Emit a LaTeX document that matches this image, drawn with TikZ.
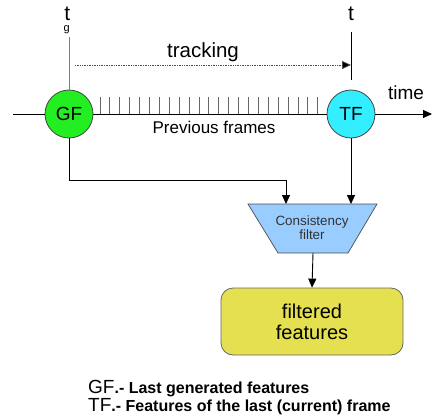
\documentclass[tikz,border=0pt]{standalone}
\usepackage{fontspec}
\setmainfont{Liberation Sans}
\usetikzlibrary{arrows.meta,calc}
\definecolor{gfgreen}{HTML}{22EE22}
\definecolor{tfcyan}{HTML}{33EEFF}
\definecolor{filtblue}{HTML}{99CCFF}
\definecolor{boxyellow}{HTML}{E5E04F}
\definecolor{edgegray}{HTML}{444444}
\tikzset{
  framecirc/.style={circle, draw=edgegray, line width=0.8pt, minimum size=48pt, inner sep=0pt, font=\fontsize{19}{19}\selectfont},
  conn/.style={draw=black, line width=0.9pt},
  arr/.style={conn, -{Triangle[length=9pt,width=8pt]}},
  ticksty/.style={draw=black!60, line width=0.9pt},
  lbl/.style={inner sep=0pt},
}
\begin{document}
\begin{tikzpicture}[x=1pt,y=-1pt]
\useasboundingbox (0,0) rectangle (433,417);
% circles
\node[framecirc, fill=gfgreen] (gf) at (69,114) {GF};
\node[framecirc, fill=tfcyan] (tf) at (351,114) {TF};
% timeline
\coordinate (tl0) at (13,114);
\coordinate (tl1) at (432,114);
\draw[conn] (tl0) -- (gf);
\draw[conn] (gf) -- (tf);
\draw[arr] (tf) -- (tl1);
% ticks
\foreach \i in {0,...,22} \draw[ticksty] ({100+\i*9.9},97) -- ({100+\i*9.9},114);
\node[lbl, font=\fontsize{17}{17}\selectfont] (prev) at (214,127) {Previous frames};
% t_g
\node[lbl, anchor=base, font=\fontsize{21}{21}\selectfont] (tg) at (67,21) {t\raisebox{-10.5pt}{\fontsize{11}{11}\selectfont\kern-6.5pt g}};
\coordinate (tgl) at (69,37);
\draw[draw=black!50, line width=0.8pt] (tgl) -- (gf.north);
% t
\node[lbl, anchor=base, font=\fontsize{21}{21}\selectfont] (tt) at (351,21) {t};
\coordinate (tta) at (351,32);
\coordinate (ttb) at (351,80);
\draw[conn] (tta) -- (ttb);
% tracking
\coordinate (trk0) at (75,65);
\coordinate (trk1) at (351,65);
\draw[draw=black!70, line width=0.7pt, densely dotted, -{Triangle[length=9pt,width=8pt,fill=black]}] (trk0) -- (trk1);
\node[lbl, font=\fontsize{20.5}{20.5}\selectfont] (trk) at (203,52) {tracking};
\node[lbl, font=\fontsize{19}{19}\selectfont] (time) at (406,93) {time};
% consistency filter
\draw[fill=filtblue, draw=black!70, line width=0.7pt] (248,204) -- (377,204) -- (348,253) -- (278,253) -- cycle;
\node[lbl, font=\fontsize{13.4}{14}\selectfont, align=center, text=black!80] (cf) at (312,228) {Consistency\\filter};
\coordinate (cfL) at (286,204);
\coordinate (cfR) at (351,204);
\coordinate (cfB) at (313,253);
\coordinate (bend) at (69,180);
\draw[conn] (gf.south) -- (bend);
\draw[arr] (bend) -| (cfL);
\draw[arr] (tf.south) -- (cfR);
% filtered features
\node[draw=black!60, line width=0.8pt, fill=boxyellow, rounded corners=12pt, minimum width=182pt, minimum height=67pt, align=center, font=\fontsize{20}{21}\selectfont] (ff) at (312,321.5) {filtered\\features};
\draw[arr] (cfB) -- (ff.north);
% legend
\node[lbl, anchor=base west] (lg1) at (88,393) {{\fontsize{19}{19}\selectfont GF}{\bfseries\fontsize{16}{16}\selectfont .- Last generated features}};
\node[lbl, anchor=base west] (lg2) at (88,411) {{\fontsize{19}{19}\selectfont TF}{\bfseries\fontsize{16}{16}\selectfont .- Features of the last (current) frame}};
\end{tikzpicture}
\end{document}
